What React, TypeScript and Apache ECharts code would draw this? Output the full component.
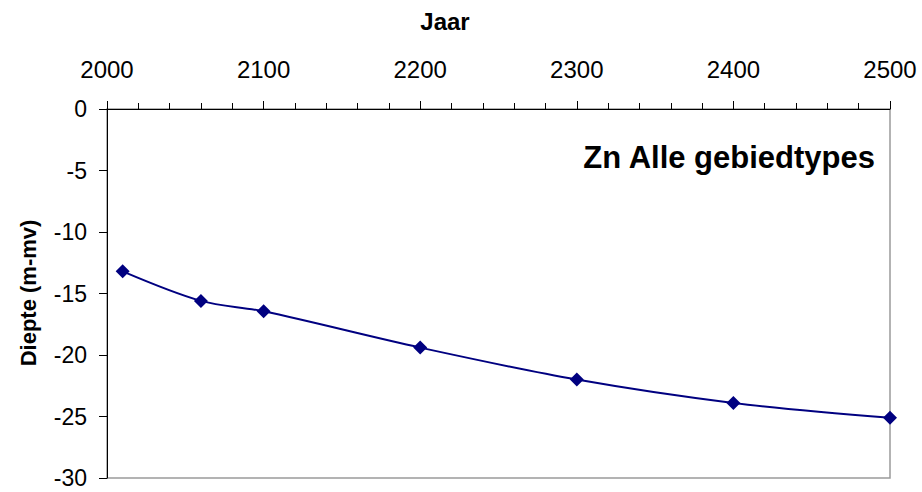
import React, { useEffect, useRef } from "react";
import * as echarts from "echarts";

const years = [2010, 2060, 2100, 2200, 2300, 2400, 2500];
const depths = [-13.2, -15.6, -16.45, -19.4, -22.0, -23.9, -25.1];
const xTitle = "Jaar";
const yTitle = "Diepte (m-mv)";
const chartLabel = "Zn Alle gebiedtypes";

export default function App() {
  const ref = useRef<HTMLDivElement>(null);
  useEffect(() => {
    if (!ref.current) return;
    const chart = echarts.init(ref.current, null, { renderer: "svg" });
    const font = "'Liberation Sans', Arial, sans-serif";
    chart.setOption({
      animation: false,
      backgroundColor: "#ffffff",
      grid: {
        left: 107,
        right: 32,
        top: 109,
        bottom: 14,
        show: true,
        borderColor: "#9a9a9a",
        borderWidth: 1.5,
        backgroundColor: "transparent",
      },
      xAxis: {
        type: "value",
        position: "top",
        min: 2000,
        max: 2500,
        interval: 100,
        axisLine: { show: true, onZero: false, lineStyle: { color: "#000", width: 1 } },
        axisTick: { show: true, inside: false, length: 8, lineStyle: { color: "#000" } },
        minorTick: { show: true, splitNumber: 5, length: 6, lineStyle: { color: "#000" } },
        splitLine: { show: false },
        axisLabel: {
          color: "#000",
          fontFamily: font,
          fontSize: 24,
          margin: 28,
          formatter: (v: number) => String(v),
        },
      },
      yAxis: {
        type: "value",
        min: -30,
        max: 0,
        interval: 5,
        axisLine: { show: true, onZero: false, lineStyle: { color: "#000", width: 1 } },
        axisTick: { show: true, inside: false, length: 8, lineStyle: { color: "#000" } },
        splitLine: { show: false },
        axisLabel: {
          color: "#000",
          fontFamily: font,
          fontSize: 23,
          margin: 20,
          formatter: (v: number) => String(v),
        },
      },
      graphic: [
        {
          type: "text",
          x: 445,
          y: 21,
          style: {
            text: xTitle,
            fontFamily: font,
            fontSize: 24,
            fontWeight: "bold",
            fill: "#000",
            textAlign: "center",
            textVerticalAlign: "middle",
          },
        },
        {
          type: "text",
          x: 28,
          y: 293,
          rotation: Math.PI / 2,
          style: {
            text: yTitle,
            fontFamily: font,
            fontSize: 22,
            fontWeight: "bold",
            fill: "#000",
            textAlign: "center",
            textVerticalAlign: "middle",
          },
        },
        {
          type: "text",
          x: 875,
          y: 157,
          style: {
            text: chartLabel,
            fontFamily: font,
            fontSize: 31,
            fontWeight: "bold",
            fill: "#000",
            textAlign: "right",
            textVerticalAlign: "middle",
          },
        },
      ],
      series: [
        {
          type: "line",
          data: years.map((y, i) => [y, depths[i]]),
          smooth: 0.33,
          symbol: "diamond",
          symbolSize: 14,
          lineStyle: { color: "#000080", width: 2 },
          itemStyle: { color: "#000080" },
          clip: false,
        },
      ],
    });
    return () => chart.dispose();
  }, []);
  return (
    <div
      ref={ref}
      style={{ position: "absolute", left: 0, top: 0, width: 922, height: 492 }}
    />
  );
}
